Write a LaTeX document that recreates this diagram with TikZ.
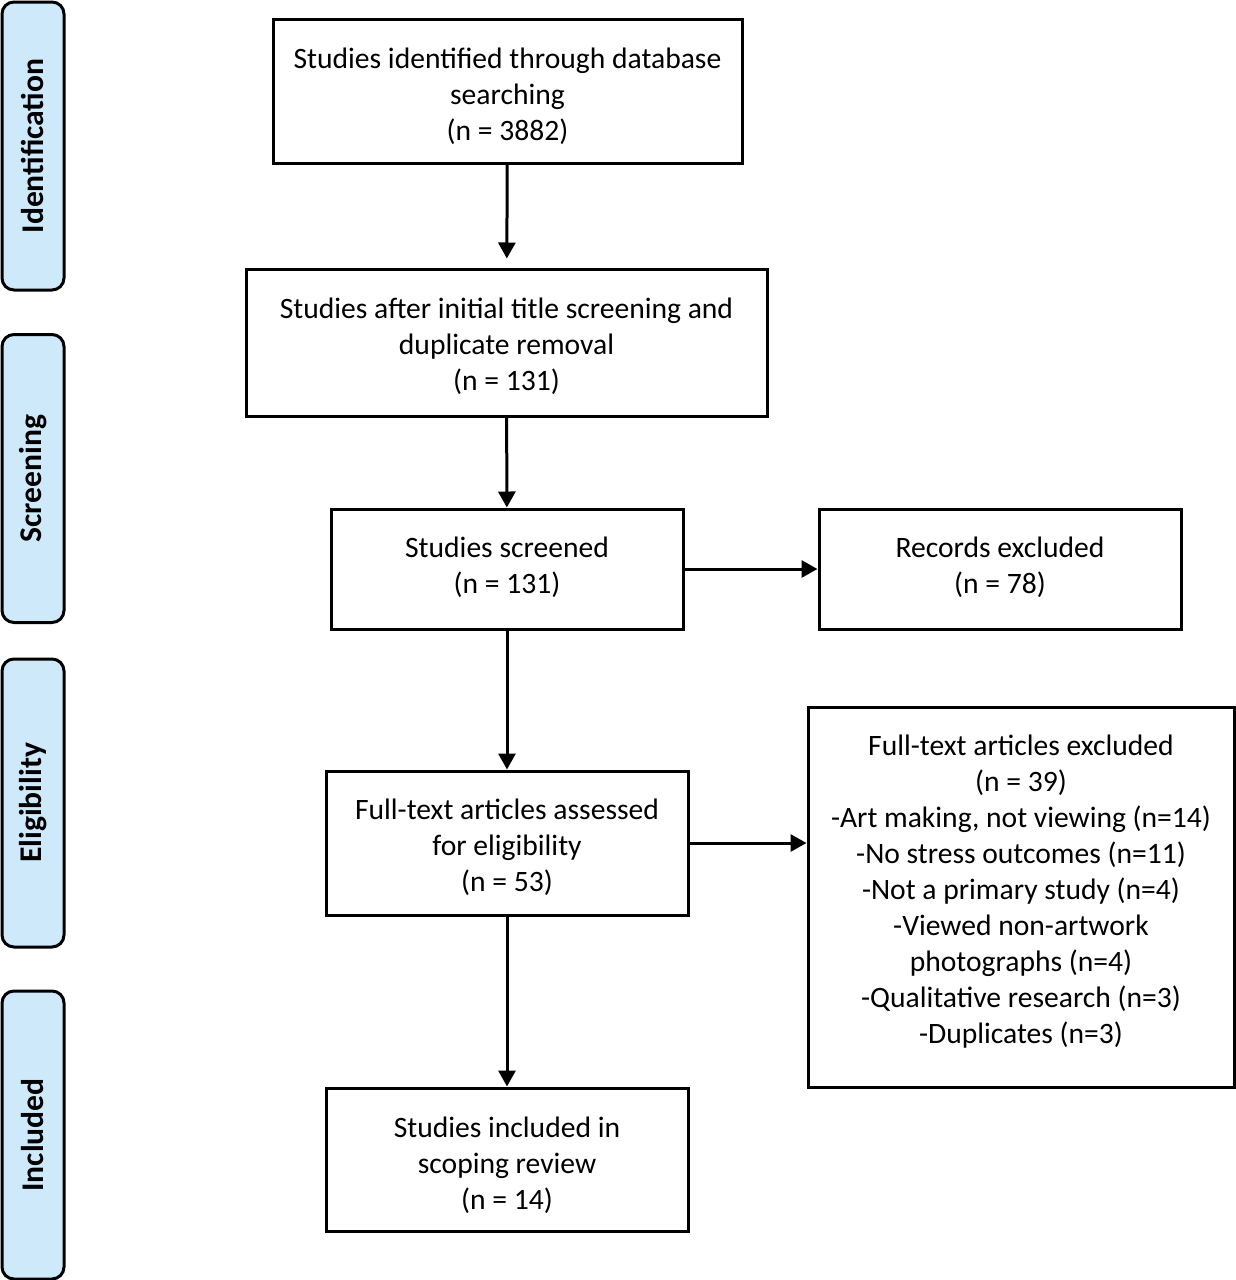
\documentclass[tikz,border=0pt]{standalone}
\usepackage{fontspec}
\setmainfont{Carlito}
\usetikzlibrary{arrows.meta}
\definecolor{sidefill}{HTML}{CDE9FA}
\tikzset{
  box/.style={draw, line width=1.5pt, inner sep=0pt},
  txt/.style={align=center, inner sep=0pt, font=\fontsize{14.8}{18}\selectfont},
  side/.style={draw, line width=1.5pt, fill=sidefill, rounded corners=6pt, rotate=90, inner sep=0pt,
    minimum width=144pt, minimum height=31pt, font=\bfseries\fontsize{15.8}{18}\selectfont},
  arr/.style={line width=1.5pt, -{Triangle[length=8pt,width=8.5pt]}}
}
\begin{document}
\begin{tikzpicture}[x=0.5pt,y=-0.5pt]
\useasboundingbox (0,0) rectangle (1236,1280);
\node[side] (s1) at (33,146) {Identification};
\node[side] (s2) at (33,478.5) {Screening};
\node[side] (s3) at (33,803) {Eligibility};
\node[side] (s4) at (33,1135) {Included};
\node[box, minimum width=234.5pt, minimum height=72pt] (A) at (507.5,91) {};
\node[txt] (At) at (507.5,96.5) {Studies identified through database\\searching\\(n = 3882)};
\node[box, minimum width=260.5pt, minimum height=73.5pt] (B) at (506.5,342.5) {};
\node[txt] (Bt) at (506.5,346.5) {Studies after initial title screening and\\duplicate removal\\(n = 131)};
\node[box, minimum width=176pt, minimum height=60pt] (C) at (507,569) {};
\node[txt] (Ct) at (507,567) {Studies screened\\(n = 131)};
\node[box, minimum width=181pt, minimum height=60pt] (D) at (1000,569) {};
\node[txt] (Dt) at (1000,567) {Records excluded\\(n = 78)};
\node[box, minimum width=181pt, minimum height=72pt] (E) at (507,843) {};
\node[txt] (Et) at (507,847) {Full-text articles assessed\\for eligibility\\(n = 53)};
\node[box, minimum width=213pt, minimum height=190pt] (F) at (1021,897) {};
\node[txt] (Ft) at (1021,892) {Full-text articles excluded\\(n = 39)\\-Art making, not viewing (n=14)\\-No stress outcomes (n=11)\\-Not a primary study (n=4)\\-Viewed non-artwork\\photographs (n=4)\\-Qualitative research (n=3)\\-Duplicates (n=3)};
\node[box, minimum width=181pt, minimum height=71.5pt] (G) at (507,1159.5) {};
\node[txt] (Gt) at (507,1165.5) {Studies included in\\scoping review\\(n = 14)};
\draw[arr, shorten >=4.5pt] (A) -- (B);
\draw[arr] (B) -- (C);
\draw[arr] (C) -- (E);
\draw[arr] (E) -- (G);
\draw[arr] (C) -- (D);
\draw[arr] (E.east) -- (F.west |- E.east);
\end{tikzpicture}
\end{document}
